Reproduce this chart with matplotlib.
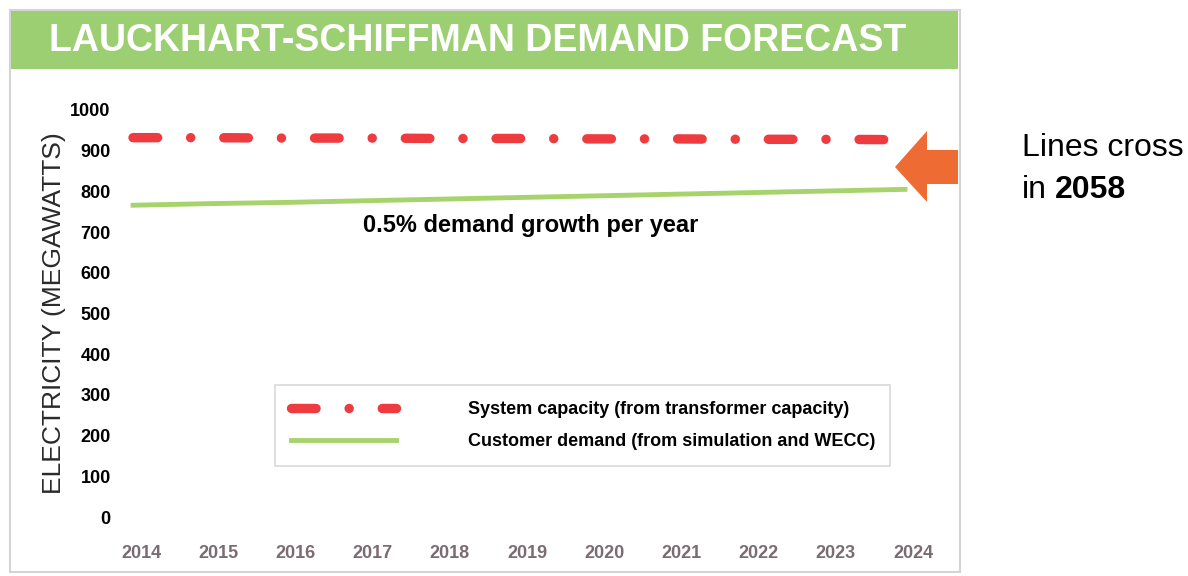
import matplotlib
matplotlib.use("Agg")
import matplotlib.pyplot as plt
from matplotlib.patches import Rectangle, Polygon
from matplotlib.transforms import ScaledTranslation

# values
years = [2014, 2015, 2016, 2017, 2018, 2019, 2020, 2021, 2022, 2023, 2024]
capacity = [932, 932, 931, 931, 930, 930, 929, 929, 928, 928, 927]
demand = [766, 770, 773, 777, 781, 785, 789, 793, 797, 801, 805]
yticks = [0, 100, 200, 300, 400, 500, 600, 700, 800, 900, 1000]

plt.rcParams['font.family'] = ['Liberation Sans', 'DejaVu Sans']

W, H = 1188, 576
fig = plt.figure(figsize=(W / 100, H / 100), dpi=100)

def fx(px):
    return px / W

def fy(py):
    return 1 - py / H

# outer frame and green title band
fig.patches.append(Rectangle((fx(10), fy(572)), fx(950), 562 / H, transform=fig.transFigure,
                             fill=False, edgecolor='#d4d4d4', linewidth=1.5))
fig.patches.append(Rectangle((fx(11), fy(69)), fx(947), 58 / H, transform=fig.transFigure,
                             facecolor='#9ccf72', edgecolor='none'))
fig.text(fx(478), fy(41), 'LAUCKHART-SCHIFFMAN DEMAND FORECAST', color='white',
         fontsize=27, fontweight='bold', ha='center', va='center')

ax = fig.add_axes([fx(117.6), fy(517), fx(802.8), 407 / H])
ax.plot(years, capacity, color='#ee3b40', linewidth=6.8, dashes=(2.6, 3.5, 0.01, 3.5),
        dash_capstyle='round', label='System capacity (from transformer capacity)')
ax.plot(years, demand, color='#a6d36c', linewidth=3.5,
        label='Customer demand (from simulation and WECC)')

ax.set_xlim(2013.8, 2024.2)
ax.set_ylim(0, 1000)
ax.set_xticks(years)
ax.set_yticks(yticks)
ax.tick_params(axis='both', length=0)
ax.tick_params(axis='x', pad=20, labelsize=13, labelcolor='#7b6b72')
ax.tick_params(axis='y', pad=5, labelsize=13)
shift = ScaledTranslation(8 / 100, 0, fig.dpi_scale_trans)
for lab in ax.get_xticklabels():
    lab.set_transform(lab.get_transform() + shift)
for lab in ax.get_xticklabels() + ax.get_yticklabels():
    lab.set_fontweight('bold')
for s in ax.spines.values():
    s.set_visible(False)

ax.set_ylabel('ELECTRICITY (MEGAWATTS)', fontsize=19, color='#2a2a2a')
ax.yaxis.set_label_coords(-0.064, 0.5)

ax.text(2019.15, 715, '0.5% demand growth per year', fontsize=17, fontweight='bold',
        ha='center', va='center')

leg = ax.legend(loc='upper left', bbox_to_anchor=(0.196, 0.0, 0.766, 0.324),
                mode='expand', borderaxespad=0, frameon=True, fancybox=False,
                handlelength=5.8, labelspacing=0.8, borderpad=0.9, handletextpad=4.0,
                prop={'weight': 'bold', 'size': 13})
leg.get_frame().set_edgecolor('#cfcfcf')
leg.get_frame().set_linewidth(1.2)

# orange arrow and note on the right
arrow = [(895, 167), (927, 131), (927, 150), (958, 150), (958, 184), (927, 184), (927, 202)]
fig.patches.append(Polygon([(fx(x), fy(y)) for x, y in arrow], closed=True,
                           transform=fig.transFigure, facecolor='#ef6b34', edgecolor='none'))
fig.text(fx(1022), fy(148), 'Lines cross', fontsize=23, va='center', ha='left')
t_in = fig.text(fx(1022), fy(190), 'in', fontsize=23, va='center', ha='left')
fig.canvas.draw()
bb = t_in.get_window_extent()
fig.text(fx(bb.x1 + 8), fy(190), '2058', fontsize=23, va='center', ha='left', fontweight='bold')

fig.savefig('out.png', dpi=100)
